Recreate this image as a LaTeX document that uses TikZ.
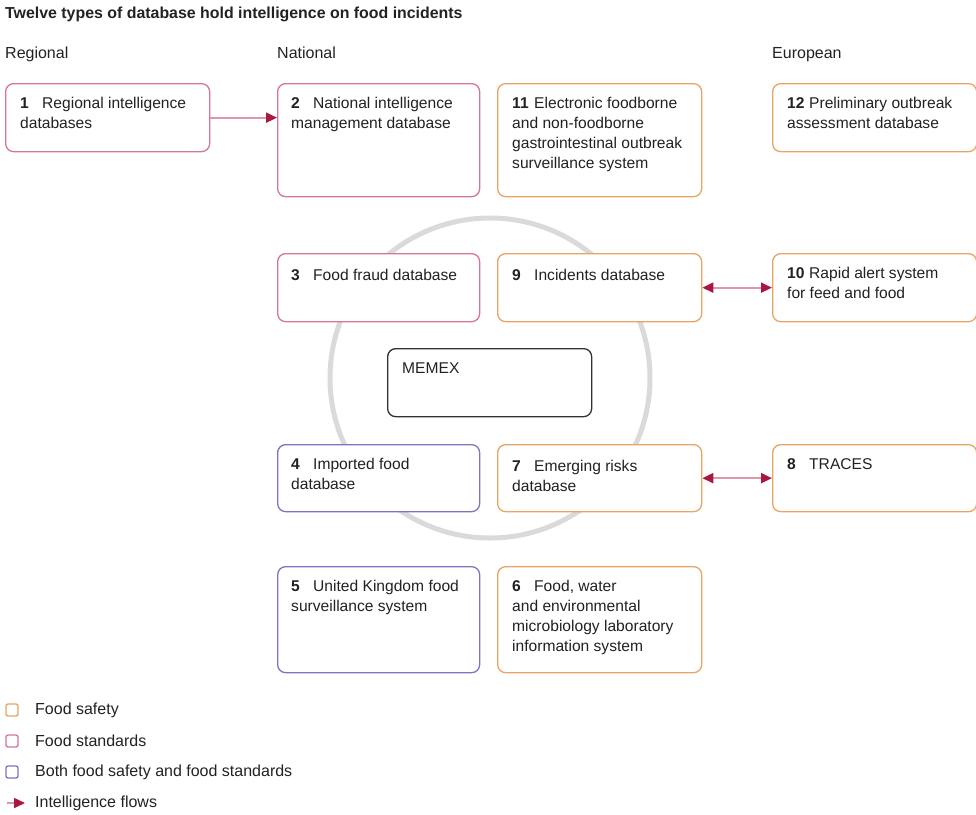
\documentclass[tikz,border=0pt]{standalone}
\usepackage{fontspec}
\setmainfont{Liberation Sans}
\usetikzlibrary{arrows.meta, positioning, calc}
\definecolor{FoodSafety}{RGB}{232, 164, 100}
\definecolor{FoodStandards}{RGB}{214, 118, 145}
\definecolor{FoodBoth}{RGB}{122, 118, 196}
\definecolor{FlowRed}{RGB}{168, 24, 64}
\definecolor{FlowPink}{RGB}{224, 150, 172}
\definecolor{RingGrey}{RGB}{218, 218, 218}
\definecolor{MemexDark}{RGB}{50, 50, 50}
\definecolor{TextDark}{RGB}{34, 34, 34}

\newcommand{\dbnum}[1]{\makebox[22pt][l]{\bfseries #1}}

\tikzset{
  dbbox/.style={draw, fill=white, rounded corners=8pt, line width=1.3pt, anchor=north west, inner sep=0pt},
  safety/.style={dbbox, draw=FoodSafety},
  standards/.style={dbbox, draw=FoodStandards},
  both/.style={dbbox, draw=FoodBoth},
  memexbox/.style={dbbox, draw=MemexDark},
  dbtext/.style={anchor=north west, align=left, inner sep=0pt, text=TextDark, font=\fontsize{15.6}{20}\selectfont},
  header/.style={anchor=base west, inner sep=0pt, text=TextDark, font=\fontsize{16}{19}\selectfont},
  flow/.style={FlowPink, line width=2pt, -{Triangle[length=11pt, width=10pt, color=FlowRed]}},
  twoflow/.style={FlowPink, line width=2pt, {Triangle[length=11pt, width=10pt, color=FlowRed]}-{Triangle[length=11pt, width=10pt, color=FlowRed]}},
  legbox/.style={draw, fill=white, rounded corners=2pt, line width=1.3pt, minimum size=12pt, inner sep=0pt}
}

\begin{document}
\begin{tikzpicture}[x=1pt, y=-1pt]
    \path[use as bounding box] (0,0) rectangle (976,814);

    % title and column heads
    \node[header, font=\bfseries\fontsize{15.9}{19}\selectfont] (title) at (5,18) {Twelve types of database hold intelligence on food incidents};
    \node[header] (regional) at (5,58) {Regional};
    \node[header] (national) at (277,58) {National};
    \node[header] (european) at (772,58) {European};

    % MEMEX ring
    \draw[RingGrey, line width=5pt] (490,378) circle[radius=160pt];

    % boxes
    \node[standards, minimum width=204pt, minimum height=68pt] (db1) at (5,83) {};
    \node[standards, minimum width=202pt, minimum height=113pt] (db2) at (277,83) {};
    \node[safety, minimum width=204pt, minimum height=113pt] (db11) at (497,83) {};
    \node[safety, minimum width=204pt, minimum height=68pt] (db12) at (772,83) {};
    \node[standards, minimum width=202pt, minimum height=68pt] (db3) at (277,253) {};
    \node[safety, minimum width=204pt, minimum height=68pt] (db9) at (497,253) {};
    \node[safety, minimum width=204pt, minimum height=68pt] (db10) at (772,253) {};
    \node[memexbox, minimum width=204pt, minimum height=68pt] (memex) at (387,348) {};
    \node[both, minimum width=202pt, minimum height=67pt] (db4) at (277,444) {};
    \node[safety, minimum width=204pt, minimum height=67pt] (db7) at (497,444) {};
    \node[safety, minimum width=204pt, minimum height=67pt] (db8) at (772,444) {};
    \node[both, minimum width=202pt, minimum height=106pt] (db5) at (277,566) {};
    \node[safety, minimum width=204pt, minimum height=106pt] (db6) at (497,566) {};

    % box texts
    \node[dbtext] (db1t) at ([shift={(15,11)}]db1.north west) {\strut\dbnum{1}Regional intelligence\\databases};
    \node[dbtext] (db2t) at ([shift={(14,11)}]db2.north west) {\strut\dbnum{2}National intelligence\\management database};
    \node[dbtext] (db11t) at ([shift={(15,11)}]db11.north west) {\strut\dbnum{11}Electronic foodborne\\and non-foodborne\\gastrointestinal outbreak\\surveillance system};
    \node[dbtext] (db12t) at ([shift={(15,11)}]db12.north west) {\strut\dbnum{12}Preliminary outbreak\\assessment database};
    \node[dbtext] (db3t) at ([shift={(14,13)}]db3.north west) {\strut\dbnum{3}Food fraud database};
    \node[dbtext] (db9t) at ([shift={(15,13)}]db9.north west) {\strut\dbnum{9}Incidents database};
    \node[dbtext] (db10t) at ([shift={(15,11)}]db10.north west) {\strut\dbnum{10}Rapid alert system\\for feed and food};
    \node[dbtext] (memext) at ([shift={(15,11)}]memex.north west) {\strut MEMEX};
    \node[dbtext] (db4t) at ([shift={(14,11)}]db4.north west) {\strut\dbnum{4}Imported food\\database};
    \node[dbtext] (db7t) at ([shift={(15,13)}]db7.north west) {\strut\dbnum{7}Emerging risks\\database};
    \node[dbtext] (db8t) at ([shift={(15,11)}]db8.north west) {\strut\dbnum{8}TRACES};
    \node[dbtext] (db5t) at ([shift={(14,11)}]db5.north west) {\strut\dbnum{5}United Kingdom food\\surveillance system};
    \node[dbtext] (db6t) at ([shift={(15,11)}]db6.north west) {\strut\dbnum{6}Food, water\\and environmental\\microbiology laboratory\\information system};

    % intelligence flows
    \draw[flow] (db1.east) -- (db1.east -| db2.west);
    \draw[twoflow] (db9.east) -- (db10.west);
    \draw[twoflow] (db7.east) -- (db8.west);

    % legend
    \node[legbox, draw=FoodSafety] (legsafety) at (12,710) {};
    \node[legbox, draw=FoodStandards] (legstandards) at (12,741) {};
    \node[legbox, draw=FoodBoth] (legboth) at (12,772) {};
    \coordinate (legflowa) at (7,803);
    \coordinate (legflowb) at (25,803);
    \draw[flow, line width=1.6pt] (legflowa) -- (legflowb);
    \node[header, anchor=west] (legsafetyt) at (35,710) {Food safety};
    \node[header, anchor=west] (legstandardst) at (35,741) {Food standards};
    \node[header, anchor=west] (legbotht) at (35,772) {Both food safety and food standards};
    \node[header, anchor=west] (legflowt) at (35,803) {Intelligence flows};
\end{tikzpicture}
\end{document}
